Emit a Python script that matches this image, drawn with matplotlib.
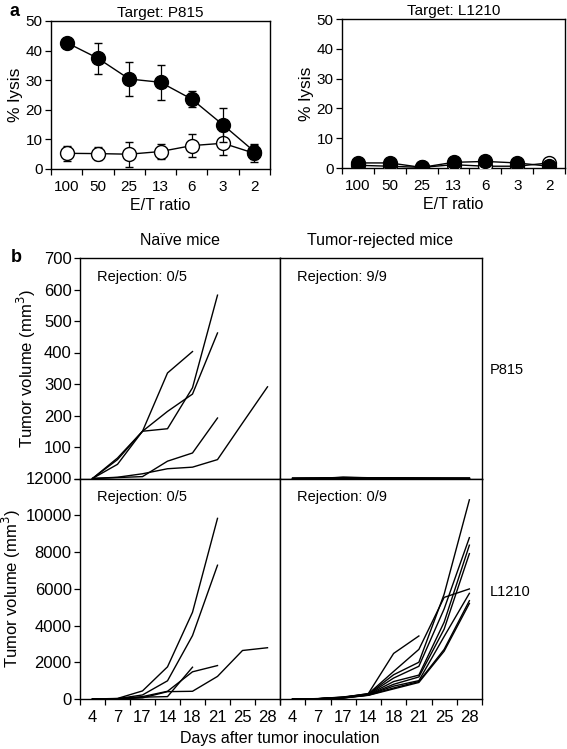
import matplotlib
matplotlib.use("Agg")
import matplotlib.pyplot as plt
import numpy as np

plt.rcParams['font.family'] = ['Liberation Sans', 'DejaVu Sans']

# ---------------- data ----------------
et_labels = ['100', '50', '25', '13', '6', '3', '2']
p815_immune = [42.7, 37.4, 30.4, 29.3, 23.6, 14.9, 5.9]
p815_immune_err = [1.0, 5.2, 5.8, 6.0, 2.7, 5.8, 2.5]
p815_naive = [5.3, 5.2, 5.0, 5.9, 7.9, 8.7, 5.3]
p815_naive_err = [2.5, 2.2, 4.2, 2.5, 3.9, 4.1, 2.8]
l1210_immune = [1.7, 1.7, 0.2, 1.9, 2.2, 1.7, 0.6]
l1210_naive = [0.9, 0.6, 0.2, 1.1, 0.6, 0.6, 1.7]

days = ['4', '7', '17', '14', '18', '21', '25', '28']
naive_p815 = [
    [0, 60, 150, 335, 403],
    [0, 45, 150, 158, 288, 582],
    [0, 65, 150, 213, 268, 462],
    [0, 3, 6, 55, 81, 192],
    [0, 4, 15, 31, 36, 60, 176, 291],
]
rejected_p815 = [
    [0, 0.5, 3, 2, 1, 0.5, 0.3, 0.2],
    [0, 0.3, 2, 1.5, 0.8, 0.4, 0.2, 0.1],
    [0, 0.6, 4, 2.5, 1, 0.5, 0.3, 0.2],
    [0, 0.2, 1.5, 1, 0.5, 0.3, 0.1, 0.1],
    [0, 0.4, 2.5, 1.8, 0.7, 0.4, 0.2, 0.1],
    [0, 0.3, 1, 0.8, 0.4, 0.2, 0.1, 0.0],
    [0, 0.5, 3.5, 2.2, 0.9, 0.5, 0.2, 0.1],
    [0, 0.2, 1.2, 0.9, 0.4, 0.2, 0.1, 0.0],
    [0, 0.3, 2, 1.2, 0.6, 0.3, 0.1, 0.1],
]
naive_l1210 = [
    [0, 30, 440, 1750, 4720, 9830],
    [0, 20, 220, 990, 3450, 7280],
    [0, 10, 100, 130, 1730],
    [0, 15, 130, 420, 1480, 1820],
    [0, 5, 60, 400, 420, 1230, 2640, 2790],
]
rejected_l1210 = [
    [0, 20, 80, 300, 2480, 3430],
    [0, 15, 100, 260, 1320, 2000, 5700, 10840],
    [0, 15, 90, 250, 1140, 1780, 4900, 8780],
    [0, 10, 80, 240, 950, 1300, 4180, 8370],
    [0, 10, 70, 230, 800, 1200, 3800, 7910],
    [0, 20, 110, 280, 1500, 2700, 5530, 5990],
    [0, 10, 60, 220, 700, 1000, 3400, 5750],
    [0, 10, 60, 210, 600, 950, 2700, 5350],
    [0, 10, 50, 200, 550, 900, 2600, 5200],
]

# ---------------- figure ----------------
W, H = 567, 749
fig = plt.figure(figsize=(W / 100, H / 100), dpi=100)


def box(l, t, r, b):
    return [l / W, 1 - b / H, (r - l) / W, (b - t) / H]


TICK_A = 10.5
TICK_B = 12
LAB_FS = 11.5


def style_cat_x(ax, labels, fs):
    n = len(labels)
    x = np.arange(n)
    ax.set_xlim(-0.5, n - 0.5)
    ax.set_xticks(x)
    ax.set_xticklabels(labels, fontsize=fs)
    ax.tick_params(axis='x', which='major', length=0, pad=8)
    ax.set_xticks(np.arange(-0.5, n, 1.0), minor=True)
    ax.tick_params(axis='x', which='minor', length=4, width=0.9, direction='out')
    return x


def spines(ax):
    for s in ax.spines.values():
        s.set_linewidth(1.0)
        s.set_color('black')


# ---------------- panel a ----------------
for k, (pos, title, imm, imm_err, nai, nai_err) in enumerate([
        ((51, 21, 270, 169), 'Target: P815', p815_immune, p815_immune_err, p815_naive, p815_naive_err),
        ((342, 19, 565, 168), 'Target: L1210', l1210_immune, None, l1210_naive, None)]):
    ax = fig.add_axes(box(*pos))
    x = style_cat_x(ax, et_labels, TICK_A + 0.5)
    ax.set_ylim(0, 50)
    ax.set_yticks([0, 10, 20, 30, 40, 50])
    ax.tick_params(axis='y', labelsize=TICK_A + 0.5, length=4, width=0.9, direction='out', pad=2)
    ax.errorbar(x, nai, yerr=nai_err, color='black', lw=1.0, marker='o', ms=10,
                mfc='white', mec='black', mew=1.0, capsize=3, elinewidth=0.9, zorder=3)
    ax.errorbar(x, imm, yerr=imm_err, color='black', lw=1.0, marker='o', ms=10,
                mfc='black', mec='black', mew=1.0, capsize=3, elinewidth=0.9, zorder=4)
    ax.set_title(title, fontsize=LAB_FS - 0.5, pad=3)
    ax.set_xlabel('E/T ratio', fontsize=LAB_FS, labelpad=3)
    ax.set_ylabel('% lysis', fontsize=LAB_FS + 1, labelpad=2)
    spines(ax)

fig.text(10 / W, 1 - 12 / H, 'a', fontsize=13, fontweight='bold', ha='left', va='center')

# ---------------- panel b ----------------
Lx, Mx, Rx = 80, 280, 482
Ty, My, By = 258, 478.5, 699

ax_tl = fig.add_axes(box(Lx, Ty, Mx, My))
ax_tr = fig.add_axes(box(Mx, Ty, Rx, My))
ax_bl = fig.add_axes(box(Lx, My, Mx, By))
ax_br = fig.add_axes(box(Mx, My, Rx, By))

for ax, data in [(ax_tl, naive_p815), (ax_tr, rejected_p815),
                 (ax_bl, naive_l1210), (ax_br, rejected_l1210)]:
    for s in data:
        ax.plot(np.arange(len(s)), s, color='black', lw=1.0)
    spines(ax)

for ax in (ax_tl, ax_tr):
    ax.set_xlim(-0.5, len(days) - 0.5)
    ax.set_xticks([])
    ax.set_ylim(0, 700)
for ax in (ax_bl, ax_br):
    style_cat_x(ax, days, TICK_B)
    ax.set_ylim(0, 12000)

ax_tl.set_yticks(np.arange(0, 701, 100))
ax_tl.set_yticklabels([''] + [str(v) for v in range(100, 701, 100)])
ax_bl.set_yticks(np.arange(0, 12001, 2000))
ax_bl.set_yticklabels([str(v) for v in range(0, 12001, 2000)])
for ax in (ax_tl, ax_bl):
    ax.tick_params(axis='y', labelsize=TICK_B, length=4, width=0.9, direction='out', pad=2)
for ax in (ax_tr, ax_br):
    ax.set_yticks([])

ax_tl.set_ylabel('Tumor volume (mm$^3$)', fontsize=LAB_FS + 0.5, labelpad=4)
ax_bl.set_ylabel('Tumor volume (mm$^3$)', fontsize=LAB_FS + 0.5, labelpad=2)

for ax, txt in [(ax_tl, 'Rejection: 0/5'), (ax_tr, 'Rejection: 9/9'),
                (ax_bl, 'Rejection: 0/5'), (ax_br, 'Rejection: 0/9')]:
    ax.text(0.085, 0.915, txt, transform=ax.transAxes, fontsize=TICK_A,
            ha='left', va='center')

fig.text(180 / W, 1 - 240 / H, 'Naïve mice', fontsize=LAB_FS, ha='center', va='center')
fig.text(380 / W, 1 - 240 / H, 'Tumor-rejected mice', fontsize=LAB_FS, ha='center', va='center')
fig.text(16 / W, 1 - 257 / H, 'b', fontsize=13, fontweight='bold', ha='center', va='center')
fig.text(490 / W, 1 - 370 / H, 'P815', fontsize=TICK_A, ha='left', va='center')
fig.text(490 / W, 1 - 592 / H, 'L1210', fontsize=TICK_A, ha='left', va='center')
fig.text(280 / W, 1 - 738 / H, 'Days after tumor inoculation', fontsize=LAB_FS,
         ha='center', va='center')

fig.savefig('out.png', dpi=100)
